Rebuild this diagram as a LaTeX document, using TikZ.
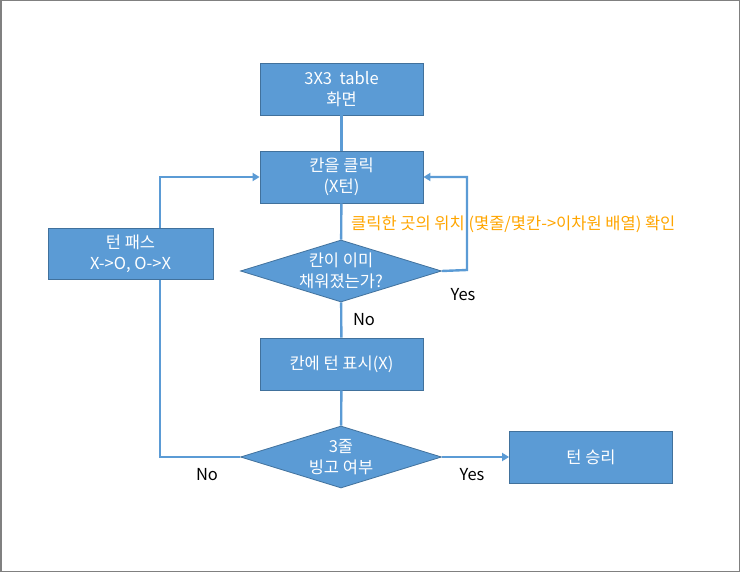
\documentclass[tikz,border=0pt]{standalone}
\usepackage{fontspec}
\setmainfont{Noto Sans CJK KR}
\usetikzlibrary{shapes.geometric,arrows.meta}
\definecolor{boxblue}{HTML}{5B9BD5}
\definecolor{boxedge}{HTML}{41719C}
\definecolor{note}{HTML}{FFA500}
\definecolor{frame}{HTML}{808080}
\begin{document}
\begin{tikzpicture}[x=1pt,y=-1pt,
  font=\fontsize{16.5}{21}\selectfont,
  proc/.style={draw=boxedge,line width=0.8pt,fill=boxblue,text=white,minimum width=163pt,minimum height=52pt,align=center,inner sep=1pt},
  decide/.style={draw=boxedge,line width=0.8pt,fill=boxblue,text=white,diamond,aspect=3.25,minimum width=201pt,minimum height=62pt,align=center,inner sep=0pt},
  conn/.style={draw=boxblue,line width=2.4pt},
  arr/.style={conn,-{Triangle[length=7pt,width=8pt]}},
  lbl/.style={text=black,inner sep=0pt}]
\useasboundingbox (0,0) rectangle (740,572);
\draw[frame,line width=1.5pt] (0.75,0.75) rectangle (739.25,571.25);
\coordinate (lt) at (160,177);
\coordinate (lb) at (160,457);
\coordinate (rt) at (467,177);
\coordinate (rb) at (467,270);
\node[proc] (start) at (341.5,89) {3X3\ \ table\\화면};
\node[proc] (click) at (341.5,177) {칸을 클릭\\(X턴)};
\node[decide] (filled) at (341,271) {칸이 이미\\채워졌는가?};
\node[proc] (mark) at (341.5,364) {칸에 턴 표시(X)};
\node[decide] (bingo) at (341,457) {3줄\\빙고 여부};
\node[proc] (win) at (591,457) {턴 승리};
\path[conn] (start) -- (click);
\path[conn] (click) -- (filled);
\path[conn] (filled) -- (mark);
\path[conn] (mark) -- (bingo);
\path[arr] (bingo) -- (win);
\path[arr] (filled.east) -- (rb) -- (rt) -- (click.east);
\path[arr] (bingo.west) -- (lb) -- (lt) -- (click.west);
\node[proc,minimum width=165pt,minimum height=51pt] (pass) at (130.5,253.5) {턴 패스\\X->O, O->X};
\node[text=note,anchor=west,inner sep=0pt] (memo) at (351,224) {클릭한 곳의 위치 (몇줄/몇칸->이차원 배열) 확인};
\node[lbl] (yes1) at (463,295) {Yes};
\node[lbl] (no1) at (364,320) {No};
\node[lbl] (yes2) at (472,475) {Yes};
\node[lbl] (no2) at (207,475) {No};
\end{tikzpicture}
\end{document}
